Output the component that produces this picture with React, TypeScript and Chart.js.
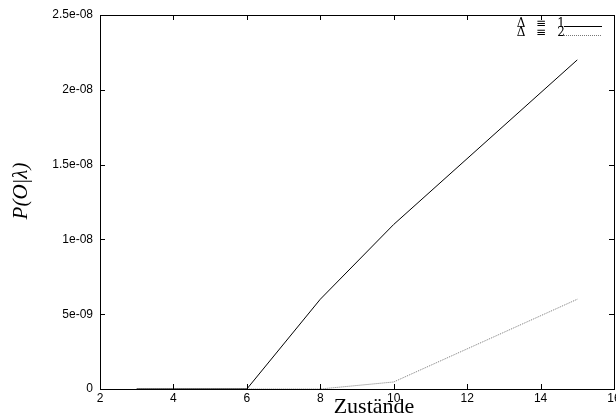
import React, { useEffect, useRef } from "react";
import { Chart, registerables } from "chart.js";

Chart.register(...registerables);

const statesDelta1 = [3, 4, 5, 6, 8, 10, 15];
const probDelta1 = [0, 0, 0, 0, 6.0e-9, 1.1e-8, 2.2e-8];
const statesDelta2 = [3, 4, 5, 6, 8, 10, 15];
const probDelta2 = [0, 0, 0, 0, 0, 4.7e-10, 6.0e-9];
const seriesSymbols = ["Δ", "Δ"];
const seriesValues = ["1", "2"];
const yTickValues = [0, 5e-9, 1e-8, 1.5e-8, 2e-8, 2.5e-8];
const yTickLabels = ["0", "5e-09", "1e-08", "1.5e-08", "2e-08", "2.5e-08"];
const xTitle = "Zustände";
const yTitle = "P(O|λ)";

const frame = {
  id: "frame",
  afterDraw(chart: any) {
    const { ctx, chartArea: a, scales } = chart;
    ctx.save();
    ctx.strokeStyle = "#000";
    ctx.lineWidth = 1;
    ctx.strokeRect(Math.round(a.left) + 0.5, Math.round(a.top) + 0.5, Math.round(a.right - a.left), Math.round(a.bottom - a.top));
    const tl = 5;
    ctx.beginPath();
    for (let v = 2; v <= 16; v += 2) {
      const x = Math.round(scales.x.getPixelForValue(v)) + 0.5;
      ctx.moveTo(x, a.bottom); ctx.lineTo(x, a.bottom - tl);
      ctx.moveTo(x, a.top); ctx.lineTo(x, a.top + tl);
    }
    yTickValues.forEach((v) => {
      const y = Math.round(scales.y.getPixelForValue(v)) + 0.5;
      ctx.moveTo(a.left, y); ctx.lineTo(a.left + tl, y);
      ctx.moveTo(a.right, y); ctx.lineTo(a.right - tl, y);
    });
    ctx.stroke();
    // legend
    ctx.font = "12px 'DejaVu Serif', serif";
    ctx.fillStyle = "#000";
    ctx.textBaseline = "middle";
    const rows = [
      { y: 24, dash: [] as number[], color: "#000" },
      { y: 33, dash: [1, 1], color: "#777" },
    ];
    rows.forEach((r, i) => {
      ctx.textAlign = "center";
      ctx.fillText(seriesSymbols[i], 521, r.y);
      ctx.fillText("≡", 541, r.y);
      ctx.fillText(seriesValues[i], 561, r.y);
      ctx.beginPath();
      ctx.setLineDash(r.dash);
      ctx.strokeStyle = r.color;
      ctx.moveTo(564, r.y + 2.5);
      ctx.lineTo(602, r.y + 2.5);
      ctx.stroke();
    });
    ctx.setLineDash([]);
    // titles
    ctx.textAlign = "center";
    ctx.textBaseline = "alphabetic";
    ctx.font = "22px 'Liberation Serif', 'Times New Roman', serif";
    ctx.fillText(xTitle, 374, 413);
    ctx.save();
    ctx.translate(21, 191);
    ctx.rotate(-Math.PI / 2);
    ctx.font = "italic 21px 'Liberation Serif', 'Times New Roman', serif";
    ctx.textBaseline = "middle";
    ctx.fillText(yTitle, 0, 0);
    ctx.restore();
    ctx.restore();
  },
};

export default function App() {
  const ref = useRef<HTMLCanvasElement>(null);
  useEffect(() => {
    document.body.style.margin = "0";
    const chart = new Chart(ref.current!, {
      type: "line",
      data: {
        datasets: [
          {
            label: "Δ = 1",
            data: statesDelta1.map((x, i) => ({ x, y: probDelta1[i] })),
            borderColor: "#000",
            borderWidth: 1,
            pointRadius: 0,
            tension: 0,
          },
          {
            label: "Δ = 2",
            data: statesDelta2.map((x, i) => ({ x, y: probDelta2[i] })),
            borderColor: "#777",
            borderWidth: 1,
            borderDash: [1, 1],
            pointRadius: 0,
            tension: 0,
          },
        ],
      },
      options: {
        animation: false,
        responsive: false,
        layout: { padding: { top: 15, right: 2, left: 0, bottom: 0 } },
        plugins: { legend: { display: false }, tooltip: { enabled: false } },
        scales: {
          x: {
            type: "linear",
            min: 2,
            max: 16,
            grid: { display: false, drawTicks: false },
            border: { display: false },
            ticks: {
              stepSize: 2,
              padding: 2,
              color: "#000",
              maxRotation: 0,
              font: { family: "'Liberation Sans', Arial, sans-serif", size: 12 },
            },
            afterFit(s: any) {
              s.height = 28;
              s.paddingLeft = 0;
              s.paddingRight = 0;
            },
          },
          y: {
            type: "linear",
            min: 0,
            max: 2.5e-8,
            grid: { display: false, drawTicks: false },
            border: { display: false },
            afterBuildTicks(s: any) {
              s.ticks = yTickValues.map((value) => ({ value }));
            },
            ticks: {
              padding: 7,
              color: "#000",
              font: { family: "'Liberation Sans', Arial, sans-serif", size: 12 },
              callback: (v: any) => {
                const i = yTickValues.findIndex((t) => Math.abs(t - Number(v)) < 1e-12);
                return i >= 0 ? yTickLabels[i] : "";
              },
            },
            afterFit(s: any) {
              s.width = 100;
              s.paddingTop = 0;
              s.paddingBottom = 0;
            },
          },
        },
      },
      plugins: [frame],
    });
    return () => chart.destroy();
  }, []);
  return (
    <div style={{ width: 616, height: 417, background: "#fff" }}>
      <canvas ref={ref} width={616} height={417} style={{ display: "block" }} />
    </div>
  );
}
